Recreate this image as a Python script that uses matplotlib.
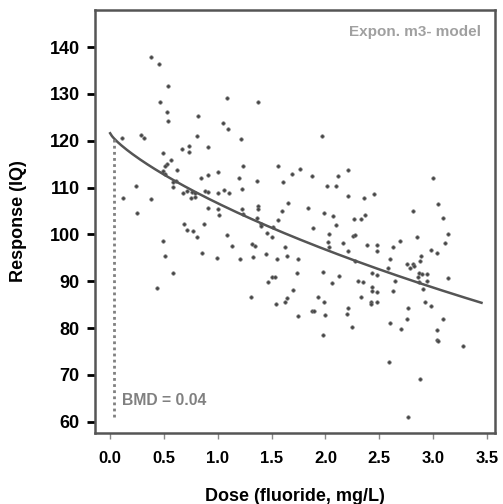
import numpy as np
import matplotlib
matplotlib.use("Agg")
import matplotlib.pyplot as plt

dose = [0.381, 0.455, 0.536, 0.461, 0.526, 0.536, 0.820, 0.811, 0.285, 0.318,
        0.111, 0.495, 0.666, 0.734, 0.734, 0.907, 0.566, 0.526, 0.511, 0.619,
        0.495, 0.511, 0.588, 0.610, 0.907, 0.845, 1.006, 0.239, 0.582, 0.675,
        0.712, 0.759, 0.789, 0.752, 0.789, 0.882, 0.913, 1.000, 0.123, 0.381,
        0.907, 1.000, 0.253, 1.084, 1.371, 1.052, 1.098, 1.219, 1.971, 1.232,
        1.557, 1.764, 2.207, 1.195, 1.368, 1.690, 1.873, 2.114, 1.609, 2.012,
        2.096, 1.058, 1.108, 1.223, 2.207, 1.656, 1.015, 1.223, 1.371, 1.371,
        1.600, 1.836, 1.987, 2.073, 2.996, 2.358, 2.454, 3.048, 2.811, 2.268,
        2.328, 2.368, 3.097, 0.690, 0.718, 0.773, 0.876, 0.805, 0.495, 0.511,
        0.857, 0.991, 0.588, 0.434, 1.238, 1.362, 1.399, 1.402, 1.557, 1.084,
        1.516, 1.455, 1.501, 1.882, 2.098, 2.036, 2.027, 2.166, 2.036, 2.207,
        1.130, 1.316, 1.346, 1.625, 1.207, 1.325, 1.446, 1.548, 1.641, 1.743,
        1.981, 2.129, 2.059, 1.734, 1.501, 1.532, 1.470, 1.702, 1.309, 1.641,
        1.625, 1.541, 1.928, 1.987, 1.873, 1.890, 1.748, 1.996, 2.207, 2.198,
        1.975, 3.141, 2.259, 2.275, 2.848, 2.383, 2.476, 2.476, 2.625, 2.693,
        3.110, 2.980, 3.033, 2.600, 2.885, 2.878, 2.275, 2.584, 2.755, 2.786,
        2.816, 2.823, 2.435, 2.476, 2.646, 2.869, 2.894, 2.941, 2.863, 2.869,
        2.941, 3.141, 2.305, 2.346, 2.430, 2.430, 2.476, 2.625, 2.903, 2.328,
        2.423, 2.423, 2.476, 2.925, 2.978, 2.770, 2.755, 3.095, 2.250, 2.600,
        2.699, 3.033, 3.033, 3.043, 3.280, 2.593, 2.878, 2.770]
iq = [137.8, 136.3, 131.7, 128.3, 126.2, 124.3, 125.3, 121.1, 121.3, 120.6,
      120.5, 117.4, 118.2, 118.9, 117.6, 118.7, 115.9, 115.0, 114.7, 113.7,
      113.5, 113.0, 111.2, 111.3, 112.7, 112.0, 113.3, 110.4, 110.2, 108.8,
      109.3, 109.1, 108.9, 107.7, 108.0, 109.3, 109.1, 108.9, 107.7, 107.5,
      105.6, 105.4, 104.5, 129.2, 128.3, 123.8, 122.6, 120.3, 121.0, 114.7,
      114.7, 114.0, 113.7, 112.0, 111.4, 112.8, 112.5, 112.5, 111.1, 110.4,
      110.4, 109.5, 108.8, 109.6, 108.2, 106.8, 104.1, 105.4, 106.1, 105.4,
      104.9, 105.7, 104.5, 103.9, 112.0, 107.7, 108.6, 106.4, 105.0, 103.3,
      103.3, 104.1, 103.4, 102.2, 100.9, 100.8, 102.2, 99.4, 98.6, 95.4,
      96.1, 95.0, 91.8, 88.5, 104.3, 103.6, 102.2, 101.8, 103.1, 99.9,
      101.5, 100.2, 99.5, 101.4, 102.0, 100.1, 98.3, 98.2, 97.2, 96.5,
      97.5, 97.9, 97.6, 97.2, 94.8, 95.1, 95.8, 94.8, 95.4, 94.7,
      92.0, 91.1, 89.7, 91.8, 90.8, 90.9, 89.9, 88.1, 86.7, 86.5,
      85.6, 85.1, 86.6, 85.5, 83.6, 83.7, 82.6, 82.8, 84.2, 83.1,
      78.5, 100.1, 99.6, 99.9, 99.5, 97.7, 97.7, 96.4, 97.2, 98.6,
      98.1, 96.7, 96.1, 94.7, 95.4, 94.3, 94.4, 92.9, 93.6, 92.9,
      93.6, 93.3, 91.8, 91.3, 90.0, 91.8, 91.5, 91.5, 91.0, 89.9,
      90.0, 90.7, 90.0, 89.8, 88.7, 87.9, 87.7, 87.9, 88.3, 86.7,
      85.6, 85.1, 85.6, 85.6, 84.8, 84.2, 81.9, 81.9, 80.3, 81.1,
      79.9, 79.5, 77.5, 77.3, 76.2, 72.8, 69.1, 60.9]

# Exponential model 3 parameters: f(x) = a * exp(-(b*x)^d)
a_par = 121.6
b_par = 0.079
d_par = 0.8
bmd = 0.04

x_ticks = [0.0, 0.5, 1.0, 1.5, 2.0, 2.5, 3.0, 3.5]
y_ticks = [60, 70, 80, 90, 100, 110, 120, 130, 140]


def model(x):
    return a_par * np.exp(-(b_par * x) ** d_par)


plt.rcParams['font.family'] = ['Liberation Sans', 'DejaVu Sans']
plt.rcParams['font.weight'] = 'bold'

fig = plt.figure(figsize=(5.03, 5.04), dpi=100)
ax = fig.add_axes([0.189, 0.141, 0.795, 0.839])

ax.plot(dose, iq, 'o', ms=2.5, color='#444444', mec='#777777', mew=0.5)

xs = np.linspace(0, 3.45, 200)
ax.plot(xs, model(xs), color='#555555', lw=1.8)

# BMD marker
ax.plot([bmd, bmd], [61, model(bmd)], color='#808080', ls=(0, (1, 1.2)), lw=2)
ax.text(bmd + 0.07, 64.5, 'BMD = 0.04', color='#808080', fontsize=11.3,
        fontweight='bold', va='center', ha='left')
ax.text(0.965, 0.965, 'Expon. m3- model', transform=ax.transAxes, color='#a0a0a0',
        fontsize=11, fontweight='bold', ha='right', va='top')

ax.set_xlim(-0.14, 3.575)
ax.set_ylim(57.6, 147.9)
ax.set_xticks(x_ticks)
ax.set_yticks(y_ticks)
ax.set_xticklabels([f'{t:.1f}' for t in x_ticks], fontsize=12, fontweight='bold')
ax.set_yticklabels([str(t) for t in y_ticks], fontsize=13, fontweight='bold')
ax.tick_params(axis='x', length=4, width=1, color='#888888', pad=9)
ax.tick_params(axis='y', length=6, width=2, color='black', pad=5)

for s in ax.spines.values():
    s.set_color('#555555')
    s.set_linewidth(1.8)

ax.set_xlabel('Dose (fluoride, mg/L)', fontsize=13, fontweight='bold', labelpad=16)
ax.set_ylabel('Response (IQ)', fontsize=13, fontweight='bold', labelpad=16)

fig.savefig('out.png', dpi=100)
